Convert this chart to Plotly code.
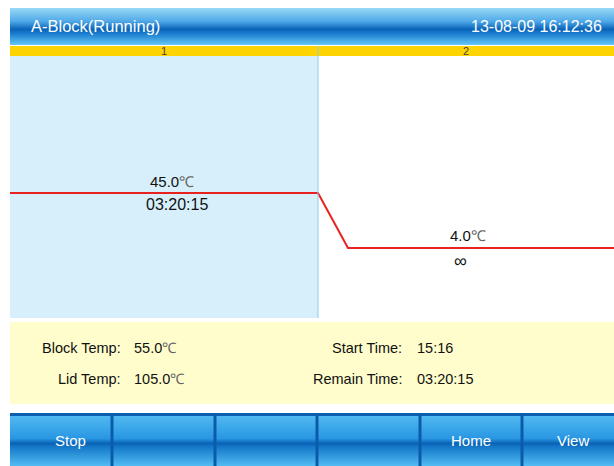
import plotly.graph_objects as go

# ---------------- data ----------------
header_title = "A-Block(Running)"
header_time = "13-08-09 16:12:36"
step_labels = ["1", "2"]
step_temps = [45.0, 4.0]
step_holds = ["03:20:15", "∞"]
info_left_labels = ["Block Temp:", "Lid Temp:"]
info_left_values = ["55.0℃", "105.0℃"]
info_right_labels = ["Start Time:", "Remain Time:"]
info_right_values = ["15:16", "03:20:15"]
button_labels = ["Stop", "", "", "", "Home", "View"]

# ---------------- layout helpers ----------------
W, H = 614, 466
FONT = "Liberation Sans"


def py(pix):
    """pixel y (from top) -> paper y"""
    return (H - pix) / H


def px(pix):
    return pix / W


def lerp(c1, c2, t):
    return tuple(int(round(a + (b - a) * t)) for a, b in zip(c1, c2))


def grad_color(stops, t):
    for (t0, c0), (t1, c1) in zip(stops, stops[1:]):
        if t0 <= t <= t1:
            return "rgb(%d,%d,%d)" % lerp(c0, c1, (t - t0) / (t1 - t0) if t1 > t0 else 0)
    return "rgb(%d,%d,%d)" % stops[-1][1]


def deg(text):
    """render the degree sign in a lighter grey as in the device UI"""
    return text.replace("℃", "<span style='color:#666666'>℃</span>")


shapes = []
annotations = []


def gradient_band(x0, x1, y0, y1, stops):
    n = int(y1 - y0)
    for i in range(n):
        t = i / max(n - 1, 1)
        shapes.append(dict(type="rect", xref="paper", yref="paper",
                           x0=px(x0), x1=px(x1), y0=py(y0 + i + 1), y1=py(y0 + i),
                           fillcolor=grad_color(stops, t), line=dict(width=0), layer="below"))


# header gradient
header_stops = [(0.0, (150, 214, 246)), (0.35, (80, 170, 232)), (0.58, (10, 100, 184)),
                (0.72, (30, 130, 210)), (1.0, (100, 196, 242))]
gradient_band(10, W, 8, 45, header_stops)

# yellow step strip
shapes.append(dict(type="rect", xref="paper", yref="paper", x0=px(10), x1=1,
                   y0=py(56), y1=py(46), fillcolor="#fdd400", line=dict(width=0), layer="below"))

# info panel
shapes.append(dict(type="rect", xref="paper", yref="paper", x0=px(10), x1=1,
                   y0=py(404), y1=py(322), fillcolor="#fffdcc", line=dict(width=0), layer="below"))

# button bar
button_stops = [(0.0, (80, 184, 240)), (0.45, (40, 150, 226)), (0.55, (10, 98, 180)),
                (0.62, (20, 120, 200)), (1.0, (80, 186, 242))]
shapes.append(dict(type="rect", xref="paper", yref="paper", x0=px(10), x1=1,
                   y0=py(416), y1=py(413), fillcolor="#0b5fae", line=dict(width=0), layer="below"))
gradient_band(10, W, 416, H, button_stops)
cell_edges = [10, 112, 215, 317, 420, 522, 624]
for e in cell_edges[1:-1]:
    shapes.append(dict(type="rect", xref="paper", yref="paper", x0=px(e - 1.5), x1=px(e + 1.5),
                       y0=0, y1=py(414), fillcolor="#0a5caa", line=dict(width=0), layer="below"))
btn_centers = [70, 163, 266, 368, 471, 573]
for lab, cx in zip(button_labels, btn_centers):
    if lab:
        annotations.append(dict(text=lab, xref="paper", yref="paper", x=px(cx), y=py(440),
                                showarrow=False, xanchor="center", yanchor="middle",
                                font=dict(family=FONT, size=15, color="white")))

# header texts
annotations.append(dict(text=header_title, xref="paper", yref="paper", x=px(29), y=py(26),
                        showarrow=False, xanchor="left", yanchor="middle",
                        font=dict(family=FONT, size=16.5, color="white")))
annotations.append(dict(text=header_time, xref="paper", yref="paper", x=px(604), y=py(26),
                        showarrow=False, xanchor="right", yanchor="middle",
                        font=dict(family=FONT, size=16, color="white")))

# ---------------- step profile on axes ----------------
step_px = 308            # width of one step column in pixels
ramp_px = 30             # ramp width in pixels
x_max = (W - 10) / step_px
ramp = ramp_px / step_px

xs = [0]
ys = [step_temps[0]]
for i, t in enumerate(step_temps):
    if i == 0:
        xs.append(1)
        ys.append(t)
    else:
        xs.append(i + ramp)
        ys.append(t)
xs.append(x_max)
ys.append(step_temps[-1])

# running step highlight
shapes.append(dict(type="rect", xref="x", yref="y domain", x0=0, x1=1, y0=0, y1=1,
                   fillcolor="#d6effa", line=dict(width=0), layer="below"))
shapes.append(dict(type="line", xref="x", yref="paper", x0=1, x1=1, y0=py(318), y1=py(46),
                   line=dict(color="#8ccfe6", width=1)))

fig = go.Figure()
fig.add_trace(go.Scatter(x=xs, y=ys, mode="lines", line=dict(color="#e8231f", width=2),
                         hoverinfo="skip", showlegend=False))

step_centers = [0.5, 1 + (x_max - 1) / 2]
label_shift = [(8, 13, 2), (2, -6, 3)]   # (temp xshift, hold xshift, temp yshift) in px
for i, (lab, t, hold) in enumerate(zip(step_labels, step_temps, step_holds)):
    cx = step_centers[i]
    tx, hx, ty = label_shift[i]
    annotations.append(dict(text=lab, x=cx, xref="x", y=py(51), yref="paper", showarrow=False,
                            xanchor="center", yanchor="middle",
                            font=dict(family=FONT, size=11, color="#444444")))
    annotations.append(dict(text=deg(f"{t:.1f}℃"), x=cx, y=t, xref="x", yref="y", showarrow=False,
                            xanchor="center", yanchor="bottom", xshift=tx, yshift=ty - 1,
                            font=dict(family=FONT, size=15, color="#111111")))
    annotations.append(dict(text=hold, x=cx, y=t, xref="x", yref="y", showarrow=False,
                            xanchor="center", yanchor="top", xshift=hx, yshift=-1,
                            font=dict(family=FONT, size=16 if i == 0 else 18, color="#111111")))

# info panel texts
rows_y = [348, 379]
for lab, val, yy in zip(info_left_labels, info_left_values, rows_y):
    annotations.append(dict(text=lab, xref="paper", yref="paper", x=px(123), y=py(yy),
                            showarrow=False, xanchor="right", yanchor="middle",
                            font=dict(family=FONT, size=14.5, color="#111111")))
    annotations.append(dict(text=deg(val), xref="paper", yref="paper", x=px(132), y=py(yy),
                            showarrow=False, xanchor="left", yanchor="middle",
                            font=dict(family=FONT, size=14.5, color="#111111")))
for lab, val, yy in zip(info_right_labels, info_right_values, rows_y):
    annotations.append(dict(text=lab, xref="paper", yref="paper", x=px(404), y=py(yy),
                            showarrow=False, xanchor="right", yanchor="middle",
                            font=dict(family=FONT, size=14.5, color="#111111")))
    annotations.append(dict(text=val, xref="paper", yref="paper", x=px(415), y=py(yy),
                            showarrow=False, xanchor="left", yanchor="middle",
                            font=dict(family=FONT, size=14.5, color="#111111")))

fig.update_layout(
    width=W, height=H,
    margin=dict(l=0, r=0, t=0, b=0),
    paper_bgcolor="white", plot_bgcolor="white",
    shapes=shapes, annotations=annotations,
    xaxis=dict(domain=[px(10), 1], range=[0, x_max], visible=False, fixedrange=True),
    yaxis=dict(domain=[py(318), py(56)], range=[-48.2, 147.2], visible=False, fixedrange=True),
)

fig.write_html("out.html", config={"displayModeBar": False},
               post_script="document.body.style.margin='0';document.body.style.overflow='hidden';")
